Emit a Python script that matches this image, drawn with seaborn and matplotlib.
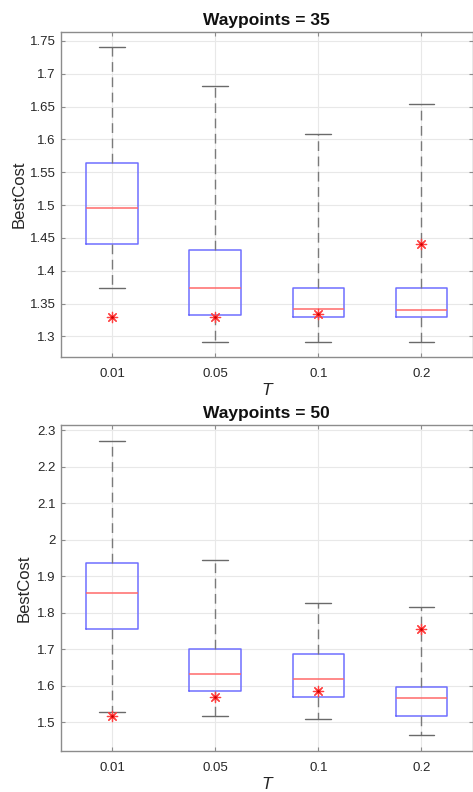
import numpy as np
import pandas as pd
import matplotlib
matplotlib.use("Agg")
import matplotlib.pyplot as plt
import seaborn as sns

# ---- data ----
T_labels = ["0.01", "0.05", "0.1", "0.2"]

# Waypoints = 35 : [whisker low, q1, median, q3, whisker high]
wp35_low = [1.373, 1.291, 1.291, 1.291]
wp35_q1 = [1.441, 1.333, 1.329, 1.329]
wp35_med = [1.495, 1.373, 1.341, 1.340]
wp35_q3 = [1.564, 1.432, 1.373, 1.373]
wp35_high = [1.741, 1.681, 1.608, 1.654]
wp35_star = [1.330, 1.330, 1.3335, 1.441]

# Waypoints = 50
wp50_low = [1.5265, 1.5156, 1.5082, 1.4635]
wp50_q1 = [1.7557, 1.584, 1.5685, 1.5164]
wp50_med = [1.8534, 1.6323, 1.6178, 1.5667]
wp50_q3 = [1.9365, 1.700, 1.6854, 1.595]
wp50_high = [2.2718, 1.9438, 1.8269, 1.8159]
wp50_star = [1.5164, 1.5685, 1.584, 1.7557]

sns.set_theme(style="white")
plt.rcParams["font.family"] = ["Liberation Sans", "DejaVu Sans"]

fig = plt.figure(figsize=(4.73, 7.92), dpi=100)
W, H = 473.0, 792.0
ax1 = fig.add_axes([60.5 / W, 1 - 356.7 / H, 412.5 / W, (356.7 - 32.3) / H])
ax2 = fig.add_axes([60.5 / W, 1 - 750.7 / H, 412.5 / W, (750.7 - 425.3) / H])

spine_col = "#8c8c8c"
text_col = "#262626"


def draw(ax, low, q1, med, q3, high, star, ylim, yticks, title, ylpad):
    rows = []
    for i, t in enumerate(T_labels):
        for v in (low[i], q1[i], med[i], q3[i], high[i]):
            rows.append({"T": t, "BestCost": v})
    df = pd.DataFrame(rows)
    sns.boxplot(
        data=df, x="T", y="BestCost", order=T_labels, ax=ax,
        whis=np.inf, width=0.5, fill=False, showcaps=True,
        boxprops=dict(color="#6f6fff", linewidth=1.1),
        medianprops=dict(color="#ff6a6a", linewidth=1.1),
        whiskerprops=dict(color="#7a7a7a", linewidth=1.0, linestyle=(0, (7, 4))),
        capprops=dict(color="#6a6a6a", linewidth=1.0),
        capwidths=0.25,
    )
    sdf = pd.DataFrame({"T": T_labels, "BestCost": star})
    sns.scatterplot(data=sdf, x="T", y="BestCost", ax=ax, marker=(8, 2, 0),
                    s=55, color="#ff4040", linewidth=0.9, zorder=5)
    sns.scatterplot(data=sdf, x="T", y="BestCost", ax=ax, marker="o",
                    s=4, color="#cc0000", linewidth=0, zorder=6)
    ax.set_xlim(-0.5, 3.5)
    ax.set_ylim(*ylim)
    ax.set_yticks(yticks)
    ax.set_yticklabels(["%g" % v for v in yticks])
    ax.set_xticks(range(4))
    ax.set_xticklabels(T_labels)
    ax.grid(True, color="#e8e8e8", linewidth=0.8)
    ax.set_axisbelow(True)
    for s in ax.spines.values():
        s.set_visible(True)
        s.set_color(spine_col)
        s.set_linewidth(1.0)
    ax.tick_params(direction="in", length=3, width=0.8, color=spine_col,
                   labelsize=9.5, labelcolor=text_col, right=True, top=True,
                   left=True, bottom=True)
    ax.tick_params(axis="x", pad=8)
    ax.tick_params(axis="y", pad=3.5)
    ax.set_title(title, fontsize=12.5, fontweight="bold", color="#111111", pad=5)
    ax.set_xlabel("T", fontsize=12.5, style="italic", color=text_col, labelpad=2)
    ax.set_ylabel("BestCost", fontsize=12, color=text_col, labelpad=ylpad)


draw(ax1, wp35_low, wp35_q1, wp35_med, wp35_q3, wp35_high, wp35_star,
     (1.269, 1.763), [1.3, 1.35, 1.4, 1.45, 1.5, 1.55, 1.6, 1.65, 1.7, 1.75],
     "Waypoints = 35", 2)
draw(ax2, wp50_low, wp50_q1, wp50_med, wp50_q3, wp50_high, wp50_star,
     (1.4214, 2.3137), [1.5, 1.6, 1.7, 1.8, 1.9, 2.0, 2.1, 2.2, 2.3],
     "Waypoints = 50", 4)

fig.savefig("out.png", dpi=100)
